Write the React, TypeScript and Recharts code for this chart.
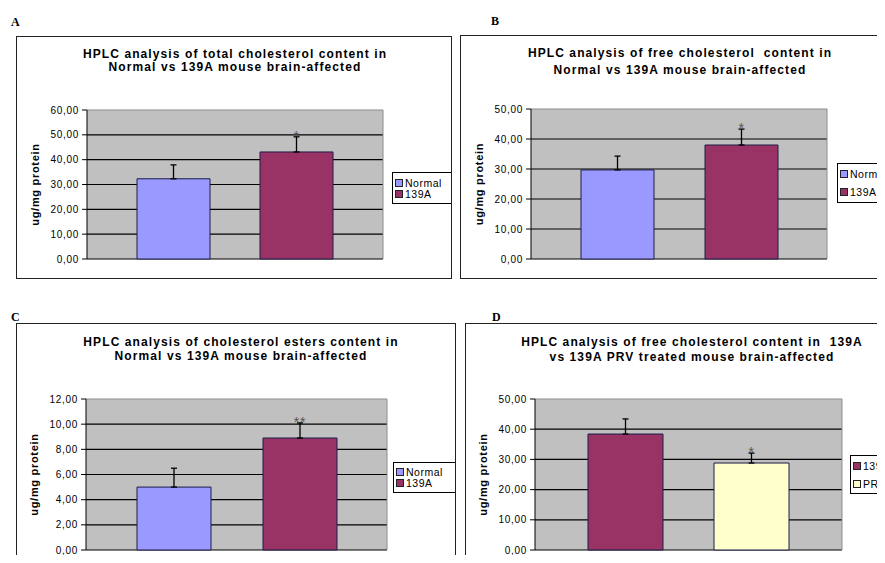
import React from "react";
import {
  Bar,
  BarChart,
  CartesianGrid,
  ErrorBar,
  LabelList,
  XAxis,
  YAxis,
} from "recharts";

const FONT = '"Liberation Sans", Arial, Helvetica, sans-serif';

const NORMAL = "#9999ff";
const A139 = "#993366";
const PRV = "#ffffcc";

// A - total cholesterol
const totalSeries = ["Normal", "139A"];
const totalValues = [32.3, 43.1];
const totalErrors = [5.6, 6.1];
const totalMarks = ["", "*"];
const totalTicks = [0, 10, 20, 30, 40, 50, 60];

// B - free cholesterol
const freeSeries = ["Normal", "139A"];
const freeValues = [29.7, 38.0];
const freeErrors = [4.6, 5.3];
const freeMarks = ["", "*"];
const freeTicks = [0, 10, 20, 30, 40, 50];

// C - cholesterol esters
const esterSeries = ["Normal", "139A"];
const esterValues = [5.0, 8.9];
const esterErrors = [1.5, 1.2];
const esterMarks = ["", "**"];
const esterTicks = [0, 2, 4, 6, 8, 10, 12];

// D - free cholesterol, 139A vs PRV treated
const prvSeries = ["139A", "PRV"];
const prvValues = [38.4, 28.8];
const prvErrors = [5.0, 3.3];
const prvMarks = ["", "*"];
const prvTicks = [0, 10, 20, 30, 40, 50];

type Box = { left: number; top: number; width: number; height: number };

type PanelProps = {
  letter: string;
  letterPos: { left: number; top: number };
  frame: Box;
  title: string[];
  titleTop: number;
  titleLine: number;
  titleDx: number;
  series: string[];
  colors: string[];
  values: number[];
  errors: number[];
  marks: string[];
  ticks: number[];
  margin: { top: number; right: number; bottom: number; left: number };
  catGap: number;
  barGap: number;
  legend: Box & { gap: number };
};

function toRows(values: number[], errors: number[]) {
  const row: Record<string, any> = { cat: "" };
  values.forEach((v, i) => {
    row[`s${i}`] = v;
    row[`e${i}`] = [0, errors[i]];
  });
  return [row];
}

const fmt = (v: number) => v.toFixed(2).replace(".", ",");

function markContent(mark: string, value: number, err: number) {
  return (props: any) => {
    if (!mark) return null;
    const vb = props.viewBox ?? props;
    const { x, y, width, height } = vb;
    const top = y - (err * Math.abs(height)) / value;
    return (
      <text
        x={x + width / 2}
        y={top + 4}
        textAnchor="middle"
        fontSize={14}
        fill="#555"
      >
        {mark}
      </text>
    );
  };
}

function BoxLegend({
  names,
  colors,
  box,
}: {
  names: string[];
  colors: string[];
  box: Box & { gap: number };
}) {
  return (
    <div
      style={{
        position: "absolute",
        left: box.left,
        top: box.top,
        width: box.width,
        height: box.height,
        boxSizing: "border-box",
        border: "1px solid #000",
        background: "#fff",
        display: "flex",
        flexDirection: "column",
        justifyContent: "center",
        gap: box.gap,
        paddingLeft: 2,
        fontSize: 10.5,
        letterSpacing: 0.5,
      }}
    >
      {names.map((n, i) => (
        <div
          key={n}
          style={{
            display: "flex",
            alignItems: "center",
            height: 10,
            whiteSpace: "nowrap",
          }}
        >
          <span
            style={{
              display: "inline-block",
              width: 6,
              height: 6,
              border: "1px solid #222",
              background: colors[i],
              marginRight: 2,
            }}
          />
          {n}
        </div>
      ))}
    </div>
  );
}

function Panel(p: PanelProps) {
  const innerW = p.frame.width - 2;
  const innerH = p.frame.height - 2;
  const data = toRows(p.values, p.errors);
  const max = p.ticks[p.ticks.length - 1];

  const gridH = (g: any) => (
    <line
      key={g.key ?? `h${g.index}`}
      x1={g.x1}
      y1={g.y1}
      x2={g.x2}
      y2={g.y2}
      stroke={g.y1 <= p.margin.top + 0.5 ? "#8c8c8c" : "#000"}
      strokeWidth={1.2}
    />
  );
  const gridV = (g: any) => (
    <line
      key={g.key ?? `v${g.index}`}
      x1={g.x1}
      y1={g.y1}
      x2={g.x2}
      y2={g.y2}
      stroke="#8c8c8c"
      strokeWidth={1}
    />
  );

  return (
    <>
      <div
        style={{
          position: "absolute",
          left: p.letterPos.left,
          top: p.letterPos.top,
          fontFamily: "'Liberation Serif', 'DejaVu Serif', serif",
          fontWeight: "bold",
          fontSize: 12,
        }}
      >
        {p.letter}
      </div>
      <div
        style={{
          position: "absolute",
          left: p.frame.left,
          top: p.frame.top,
          width: p.frame.width,
          height: p.frame.height,
          boxSizing: "border-box",
          border: "1px solid #222",
          background: "#fff",
          overflow: "hidden",
          fontFamily: FONT,
        }}
      >
        <div
          style={{
            position: "absolute",
            left: p.titleDx,
            top: p.titleTop,
            width: innerW,
            textAlign: "center",
            fontWeight: "bold",
            fontSize: 12,
            lineHeight: `${p.titleLine}px`,
            letterSpacing: 1.1,
            whiteSpace: "pre",
          }}
        >
          {p.title.map((t) => (
            <div key={t}>{t}</div>
          ))}
        </div>
        <div style={{ position: "absolute", left: 0, top: 0, letterSpacing: 0.7 }}>
          <BarChart
            width={innerW}
            height={innerH}
            data={data}
            margin={p.margin}
            barCategoryGap={p.catGap}
            barGap={p.barGap}
          >
            <CartesianGrid
              fill="#c0c0c0"
              fillOpacity={1}
              horizontal={gridH}
              vertical={gridV}
              verticalCoordinatesGenerator={({ offset }: any) => [
                offset.left + offset.width,
              ]}
            />
            <XAxis
              dataKey="cat"
              tick={false}
              tickLine={false}
              axisLine={{ stroke: "#000" }}
              height={0}
            />
            <YAxis
              type="number"
              domain={[0, max]}
              ticks={p.ticks}
              interval={0}
              width={60}
              tickFormatter={fmt}
              tick={{ fontSize: 10, fill: "#000" }}
              tickSize={5}
              tickMargin={3}
              tickLine={{ stroke: "#000" }}
              axisLine={{ stroke: "#000" }}
              label={{
                value: "ug/mg protein",
                position: "insideLeft",
                content: (lp: any) => {
                  const vb = lp.viewBox;
                  const cx = vb.x + 8;
                  const cy = vb.y + vb.height / 2;
                  return (
                    <text
                      x={cx}
                      y={cy}
                      transform={`rotate(-90 ${cx} ${cy})`}
                      textAnchor="middle"
                      dominantBaseline="central"
                      fontSize={11}
                      fontWeight="bold"
                      fill="#000"
                    >
                      ug/mg protein
                    </text>
                  );
                },
              }}
            />
            {p.series.map((name, i) => (
              <Bar
                key={name}
                name={name}
                dataKey={`s${i}`}
                fill={p.colors[i]}
                stroke="#1c1c48"
                strokeWidth={1}
                isAnimationActive={false}
              >
                <ErrorBar
                  dataKey={`e${i}`}
                  width={3}
                  stroke="#000"
                  strokeWidth={1.3}
                  direction="y"
                />
                <LabelList
                  dataKey={`s${i}`}
                  content={markContent(p.marks[i], p.values[i], p.errors[i])}
                />
              </Bar>
            ))}
          </BarChart>
        </div>
        <BoxLegend names={p.series} colors={p.colors} box={p.legend} />
      </div>
    </>
  );
}

export default function App() {
  return (
    <div
      style={{
        position: "relative",
        width: 885,
        height: 563,
        margin: -8,
        overflow: "hidden",
        background: "#fff",
        color: "#000",
      }}
    >
      <Panel
        letter="A"
        letterPos={{ left: 11, top: 15 }}
        frame={{ left: 16, top: 36, width: 436, height: 243 }}
        title={[
          "HPLC analysis of total cholesterol content in",
          "Normal vs 139A mouse brain-affected",
        ]}
        titleTop={11}
        titleLine={13}
        titleDx={1}
        series={totalSeries}
        colors={[NORMAL, A139]}
        values={totalValues}
        errors={totalErrors}
        marks={totalMarks}
        ticks={totalTicks}
        margin={{ top: 73, right: 68, bottom: 19, left: 10 }}
        catGap={50}
        barGap={50}
        legend={{ left: 375, top: 135, width: 70, height: 32, gap: 1 }}
      />
      <Panel
        letter="B"
        letterPos={{ left: 491, top: 14 }}
        frame={{ left: 460, top: 35, width: 440, height: 244 }}
        title={[
          "HPLC analysis of free cholesterol  content in",
          "Normal vs 139A mouse brain-affected",
        ]}
        titleTop={9}
        titleLine={17}
        titleDx={0}
        series={freeSeries}
        colors={[NORMAL, A139]}
        values={freeValues}
        errors={freeErrors}
        marks={freeMarks}
        ticks={freeTicks}
        margin={{ top: 73, right: 72, bottom: 19, left: 10 }}
        catGap={50}
        barGap={51}
        legend={{ left: 376, top: 127, width: 70, height: 40, gap: 8 }}
      />
      <Panel
        letter="C"
        letterPos={{ left: 11, top: 310 }}
        frame={{ left: 16, top: 323, width: 440, height: 245 }}
        title={[
          "HPLC analysis of cholesterol esters content in",
          "Normal vs 139A mouse brain-affected",
        ]}
        titleTop={11}
        titleLine={14}
        titleDx={5}
        series={esterSeries}
        colors={[NORMAL, A139]}
        values={esterValues}
        errors={esterErrors}
        marks={esterMarks}
        ticks={esterTicks}
        margin={{ top: 75, right: 68, bottom: 17, left: 9 }}
        catGap={51}
        barGap={52}
        legend={{ left: 376, top: 138, width: 70, height: 31, gap: 1 }}
      />
      <Panel
        letter="D"
        letterPos={{ left: 492, top: 310 }}
        frame={{ left: 465, top: 323, width: 440, height: 245 }}
        title={[
          "HPLC analysis of free cholesterol content in  139A",
          "vs 139A PRV treated mouse brain-affected",
        ]}
        titleTop={11}
        titleLine={15}
        titleDx={7}
        series={prvSeries}
        colors={[A139, PRV]}
        values={prvValues}
        errors={prvErrors}
        marks={prvMarks}
        ticks={prvTicks}
        margin={{ top: 75, right: 62, bottom: 17, left: 9 }}
        catGap={53}
        barGap={51}
        legend={{ left: 384, top: 131, width: 70, height: 39, gap: 8 }}
      />
    </div>
  );
}
